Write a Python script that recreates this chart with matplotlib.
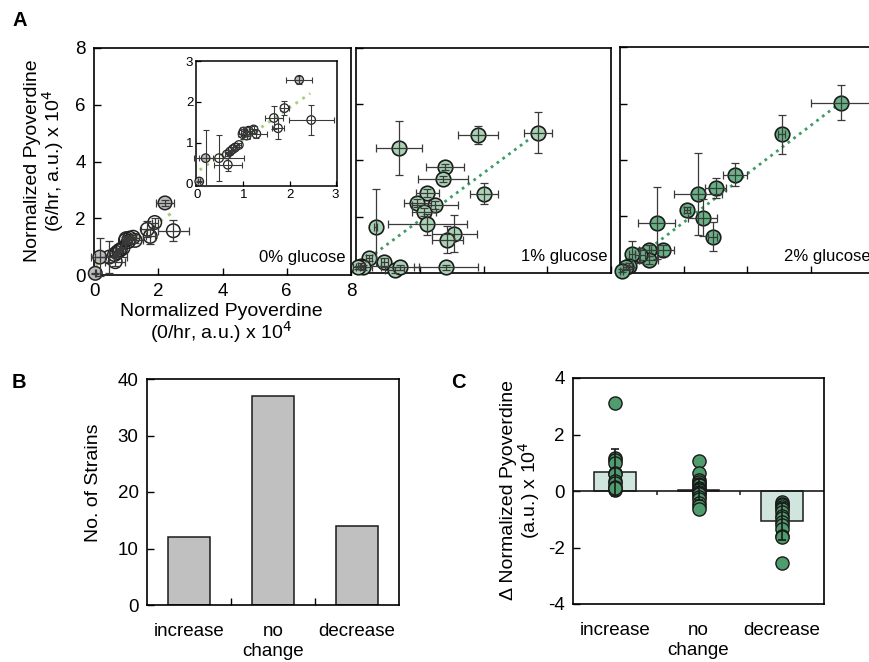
import matplotlib
matplotlib.use("Agg")
import matplotlib.pyplot as plt
import numpy as np

plt.rcParams['font.family'] = ['Liberation Sans', 'DejaVu Sans']
plt.rcParams['axes.unicode_minus'] = False

# ---------------- data ----------------
# 0% glucose (shown in main panel and inset)
g0_x = [2.21, 1.89, 1.66, 1.75, 2.47, 1.28, 0.98, 1.11, 1.22, 1.00, 1.07, 0.90, 0.77, 0.71, 0.82, 0.64, 0.66, 0.47, 0.18, 0.04]
g0_y = [2.54, 1.85, 1.61, 1.36, 1.56, 1.22, 1.22, 1.30, 1.33, 1.28, 1.18, 0.95, 0.85, 0.79, 0.89, 0.72, 0.47, 0.63, 0.63, 0.06]
g0_xerr = [0.28, 0.10, 0.20, 0.14, 0.49, 0.23, 0.10, 0.08, 0.08, 0.06, 0.08, 0.05, 0.05, 0.05, 0.05, 0.05, 0.31, 0.55, 0.15, 0.02]
g0_yerr = [0.10, 0.17, 0.28, 0.26, 0.37, 0.10, 0.12, 0.08, 0.08, 0.10, 0.08, 0.05, 0.05, 0.05, 0.05, 0.05, 0.16, 0.57, 0.68, 0.02]
g0_gray = [0, 18, 19]
fit0_x = [0.05, 2.45]
fit0_y = [0.34, 2.21]

# 1% glucose
g1_x = [1.36, 3.82, 5.71, 2.80, 2.73, 4.01, 2.24, 1.92, 2.49, 2.14, 2.24, 0.62, 3.09, 2.86, 0.41, 0.89, 0.15, 0.21, 1.21, 1.39, 2.83, 0.06]
g1_y = [4.45, 4.92, 4.99, 3.76, 3.34, 2.82, 2.84, 2.49, 2.42, 2.16, 1.73, 1.63, 1.40, 1.19, 0.54, 0.40, 0.25, 0.20, 0.11, 0.20, 0.20, 0.20]
g1_xerr = [0.72, 0.63, 0.43, 0.59, 0.77, 0.43, 0.37, 0.42, 0.72, 0.38, 1.23, 0.05, 0.72, 0.49, 0.10, 0.10, 0.10, 0.30, 0.30, 0.60, 1.00, 0.05]
g1_yerr = [0.97, 0.32, 0.73, 0.10, 0.10, 0.37, 0.15, 0.15, 0.15, 0.15, 0.38, 1.37, 0.66, 0.47, 0.10, 0.15, 0.10, 0.10, 0.10, 0.10, 0.10, 0.05]
fit1_x = [0.41, 5.71]
fit1_y = [0.54, 4.99]

# 2% glucose
g2_x = [6.95, 5.09, 3.62, 3.02, 2.46, 2.11, 2.60, 2.92, 1.16, 1.34, 0.90, 0.90, 0.63, 0.37, 0.28, 0.19, 0.05]
g2_y = [6.03, 4.91, 3.48, 3.00, 2.80, 2.23, 1.96, 1.29, 1.77, 0.80, 0.80, 0.46, 0.62, 0.66, 0.25, 0.20, 0.08]
g2_xerr = [0.93, 0.10, 0.39, 0.33, 0.75, 0.10, 0.46, 0.15, 0.58, 0.35, 0.30, 0.30, 0.15, 0.10, 0.10, 0.10, 0.05]
g2_yerr = [0.62, 0.70, 0.40, 0.35, 1.46, 0.10, 0.65, 0.50, 1.26, 0.20, 0.20, 0.15, 0.25, 0.46, 0.10, 0.10, 0.05]
fit2_x = [0.94, 6.95]
fit2_y = [0.88, 6.03]

# Panel B
categories = ["increase", "no\nchange", "decrease"]
strain_counts = [12, 37, 14]

# Panel C
delta_means = [0.66, 0.05, -1.07]
delta_errs = [0.82, 0.38, 0.66]
delta_increase = [3.13, 1.16, 1.08, 0.98, 0.62, 0.60, 0.35, 0.30, 0.15, 0.10, 0.05, 0.12]
delta_nochange = [1.07, 0.65, 0.40, 0.33, 0.25, 0.21, 0.12, 0.06, 0.02, -0.03, -0.08, -0.12, -0.20, -0.28, -0.41, -0.52, -0.65]
delta_decrease = [-0.38, -0.45, -0.50, -0.55, -0.62, -0.75, -0.88, -0.95, -1.09, -1.20, -1.35, -1.59, -1.64, -2.56]

# ---------------- figure ----------------
W, H = 869, 662
fig = plt.figure(figsize=(W / 100, H / 100), dpi=100)


def rect(l, t, r, b):
    return [l / W, 1 - b / H, (r - l) / W, (b - t) / H]


TICK = 13.5
LAB = 14
ebkw = dict(fmt='none', ecolor='#3a3a3a', elinewidth=0.9, capsize=2.6, capthick=0.9, zorder=4, clip_on=False)


def style_scatter_ax(ax, labels=True):
    ax.set_xlim(0, 8)
    ax.set_ylim(0, 8)
    ax.set_xticks([0, 2, 4, 6, 8])
    ax.set_yticks([0, 2, 4, 6, 8])
    ax.tick_params(direction='in', length=5, width=1, labelsize=TICK, pad=6,
                   top=False, right=False)
    if not labels:
        ax.tick_params(labelbottom=False, labelleft=False)
    for s in ax.spines.values():
        s.set_linewidth(1.2)


# A1: 0% glucose
ax1 = fig.add_axes(rect(94, 48, 351, 275))
style_scatter_ax(ax1)
fill0 = ['#bdbdbd' if i in g0_gray else 'none' for i in range(len(g0_x))]
ax1.plot(fit0_x, fit0_y, linestyle=(0, (1, 2.2)), color='#9fd07a', lw=2.2, zorder=2)
ax1.scatter(g0_x, g0_y, s=95, facecolors=fill0, edgecolors='#222222', linewidths=1.1, zorder=3, clip_on=False)
ax1.errorbar(g0_x, g0_y, xerr=g0_xerr, yerr=g0_yerr, **ebkw)
ax1.text(0.977, 0.075, "0% glucose", transform=ax1.transAxes, ha='right', va='center', fontsize=12)

# inset
axi = fig.add_axes(rect(196, 61, 337, 186))
axi.set_xlim(-0.03, 3.03)
axi.set_ylim(-0.05, 3.0)
axi.set_xticks([0, 1, 2, 3])
axi.set_yticks([0, 1, 2, 3])
axi.tick_params(direction='in', length=3.5, width=0.9, labelsize=9.5, pad=2)
for s in axi.spines.values():
    s.set_linewidth(1.1)
axi.plot(fit0_x, fit0_y, linestyle=(0, (1, 2.0)), color='#9fd07a', lw=2.0, zorder=2)
axi.scatter(g0_x, g0_y, s=38, facecolors=fill0, edgecolors='#222222', linewidths=0.9, zorder=3, clip_on=False)
axi.errorbar(g0_x, g0_y, xerr=g0_xerr, yerr=g0_yerr, fmt='none', ecolor='#3a3a3a',
             elinewidth=0.8, capsize=2.0, capthick=0.8, zorder=4, clip_on=False)

# A2: 1% glucose
ax2 = fig.add_axes(rect(356, 48, 611, 273))
style_scatter_ax(ax2, labels=False)
ax2.plot(fit1_x, fit1_y, linestyle=(0, (1, 1.6)), color='#3f9c66', lw=2.0, zorder=2)
ax2.scatter(g1_x, g1_y, s=110, facecolors='#a9d3b5', edgecolors='#1a1a1a', linewidths=1.2, zorder=3, clip_on=False)
ax2.errorbar(g1_x, g1_y, xerr=g1_xerr, yerr=g1_yerr, **ebkw)
ax2.text(0.985, 0.072, "1% glucose", transform=ax2.transAxes, ha='right', va='center', fontsize=12)

# A3: 2% glucose (extends past the right edge of the figure)
ax3 = fig.add_axes(rect(620, 47, 874, 273))
style_scatter_ax(ax3, labels=False)
ax3.plot(fit2_x, fit2_y, linestyle=(0, (1, 1.6)), color='#3f9c66', lw=2.0, zorder=2)
ax3.scatter(g2_x, g2_y, s=110, facecolors='#68b386', edgecolors='#1a1a1a', linewidths=1.2, zorder=3, clip_on=False)
ax3.errorbar(g2_x, g2_y, xerr=g2_xerr, yerr=g2_yerr, **ebkw)
ax3.text(0.985, 0.072, "2% glucose", transform=ax3.transAxes, ha='right', va='center', fontsize=12)

fig.text(20 / W, 1 - 21 / H, "A", fontsize=14.5, fontweight='bold', ha='center', va='center')
fig.text(45 / W, 1 - 161 / H, "Normalized Pyoverdine\n(6/hr, a.u.) x 10$^4$", rotation=90,
         ha='center', va='center', fontsize=LAB, linespacing=1.0)
fig.text(221 / W, 1 - 324 / H, "Normalized Pyoverdine\n(0/hr, a.u.) x 10$^4$",
         ha='center', va='center', fontsize=LAB, linespacing=0.95)

# ---------------- B ----------------
xpos = np.arange(len(categories))
axb = fig.add_axes(rect(147, 379, 399, 605))
axb.bar(xpos, strain_counts, width=0.5, color='#c0c0c0', edgecolor='#1a1a1a', linewidth=1.1, zorder=2)
axb.set_xlim(-0.5, 2.5)
axb.set_ylim(0, 40)
axb.set_yticks([0, 10, 20, 30, 40])
axb.set_xticks(xpos)
axb.set_xticklabels(categories, linespacing=1.25)
axb.set_xticks([0.5, 1.5], minor=True)
axb.tick_params(axis='x', which='major', length=0, labelsize=TICK, pad=13)
axb.tick_params(axis='x', which='minor', direction='in', length=5, width=1)
axb.tick_params(axis='y', direction='in', length=5, width=1, labelsize=TICK, pad=6)
for s in axb.spines.values():
    s.set_linewidth(1.2)
fig.text(19 / W, 1 - 382 / H, "B", fontsize=14.5, fontweight='bold', ha='center', va='center')
fig.text(93 / W, 1 - 483 / H, "No. of Strains", rotation=90, ha='center', va='center', fontsize=LAB)

# ---------------- C ----------------
axc = fig.add_axes(rect(573, 378, 824, 604))
axc.bar(xpos, delta_means, width=0.5, color='#cfe5de', edgecolor='#1a1a1a', linewidth=1.1, zorder=2)
axc.axhline(0, color='#1a1a1a', lw=1.2, zorder=2.5)
axc.vlines([0.5, 1.5], -0.15, 0, color='#1a1a1a', lw=1.1, zorder=2.5)
for i, vals in enumerate([delta_increase, delta_nochange, delta_decrease]):
    axc.scatter(np.full(len(vals), xpos[i]), vals, s=90, color='#4f9d6c', edgecolors='#1a1a1a',
                linewidths=1.0, zorder=3)
axc.errorbar(xpos, delta_means, yerr=delta_errs, fmt='none', ecolor='#1a1a1a', elinewidth=1.2,
             capsize=3, capthick=1.2, zorder=4)
axc.set_xlim(-0.5, 2.5)
axc.set_ylim(-4, 4)
axc.set_yticks([-4, -2, 0, 2, 4])
axc.set_xticks(xpos)
axc.set_xticklabels(categories, linespacing=1.25)
axc.tick_params(axis='x', length=0, labelsize=TICK, pad=13)
axc.tick_params(axis='y', direction='in', length=5, width=1, labelsize=TICK, pad=6)
for s in axc.spines.values():
    s.set_linewidth(1.2)
fig.text(458 / W, 1 - 382 / H, "C", fontsize=14.5, fontweight='bold', ha='center', va='center')
fig.text(521 / W, 1 - 490 / H, "Δ Normalized Pyoverdine\n(a.u.) x 10$^4$", rotation=90,
         ha='center', va='center', fontsize=LAB, linespacing=1.0)

fig.savefig("out.png", dpi=100)
